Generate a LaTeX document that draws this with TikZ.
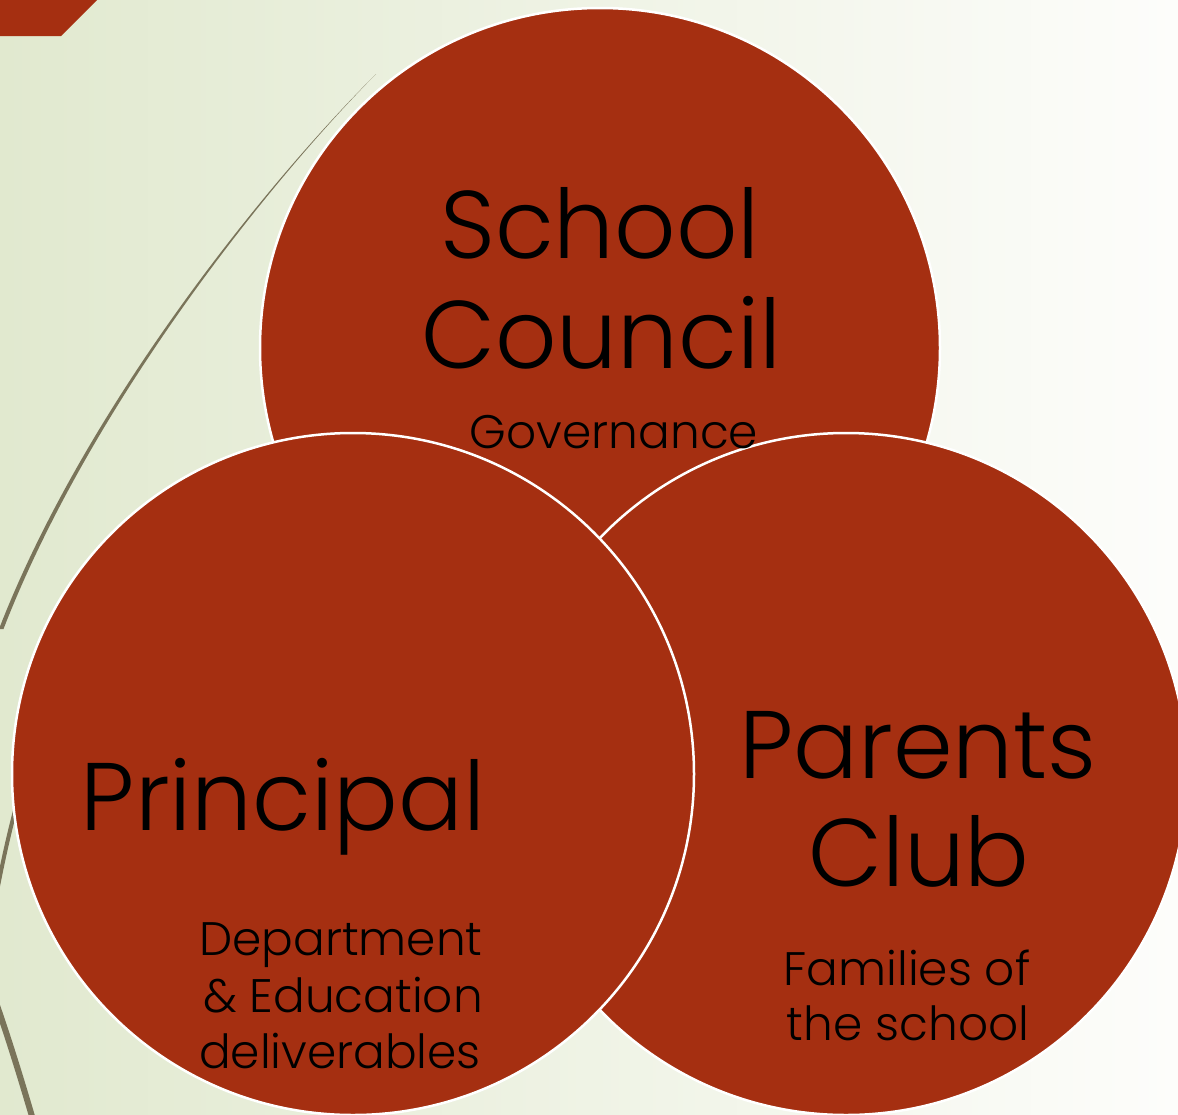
\documentclass[tikz,border=0pt]{standalone}
\usepackage{fontspec}
\setmainfont{Poppins}[UprightFont=* Light]
\definecolor{disc}{RGB}{165,47,17}
\definecolor{bgL}{RGB}{225,233,207}
\definecolor{bgR}{RGB}{253,253,251}
\definecolor{wisp}{RGB}{122,116,90}
\tikzset{
  disk/.style={circle, fill=disc, draw=white, line width=2.5pt, minimum size=682pt, inner sep=0pt},
  bigtxt/.style={anchor=base, inner sep=0pt, text=black, font=\fontsize{96}{110}\selectfont},
  smalltxt/.style={anchor=base, inner sep=0pt, text=black, font=\fontsize{47}{57}\selectfont},
  wispline/.style={draw=wisp, line cap=round},
}
\begin{document}
\begin{tikzpicture}[x=1pt,y=-1pt]
\useasboundingbox (0,0) rectangle (1178,1114);
\begin{scope}
\clip (0,0) rectangle (1178,1114);
\shade[left color=bgL, right color=bgR] (0,0) rectangle (1178,1114);
\fill[disc] (0,0) -- (97,0) -- (61,36) -- (0,36) -- cycle;
% wisps
\coordinate (w1a) at (376,74);
\coordinate (w1b) at (-1,629);
\fill[wisp] (w1a) .. controls (250,200) and (80,420) .. (w1b)
  -- (3.5,629) .. controls (84,421) and (251,201) .. (w1a) -- cycle;
\coordinate (w2a) at (70,640);
\coordinate (w2b) at (-8,920);
\draw[wispline, line width=4pt] (w2a) .. controls (40,720) and (10,810) .. (w2b);
\coordinate (w3a) at (-14,975);
\coordinate (w3b) at (36,1130);
\draw[wispline, line width=6pt] (w3a) .. controls (3,1020) and (20,1075) .. (w3b);
% circles
\node[disk, minimum size=680pt] (council) at (600,348) {};
\node[disk] (parents) at (846,774) {};
\node[disk] (principal) at (353,774) {};
\end{scope}
% texts
\node[bigtxt] (sc1) at (600,258) {School};
\node[bigtxt] (sc2) at (601,368) {Council};
\node[smalltxt] (gov) at (614,448) {Governance};
\node[bigtxt] (pr) at (283,830) {Principal};
\node[smalltxt] (pr1) at (341,955) {Department};
\node[smalltxt] (pr2) at (343,1012) {\& Education};
\node[smalltxt] (pr3) at (340,1068) {deliverables};
\node[bigtxt] (pc1) at (918,778) {Parents};
\node[bigtxt] (pc2) at (919,886) {Club};
\node[smalltxt] (pc3) at (907,985) {Families of};
\node[smalltxt] (pc4) at (908,1040) {the school};
\end{tikzpicture}
\end{document}
